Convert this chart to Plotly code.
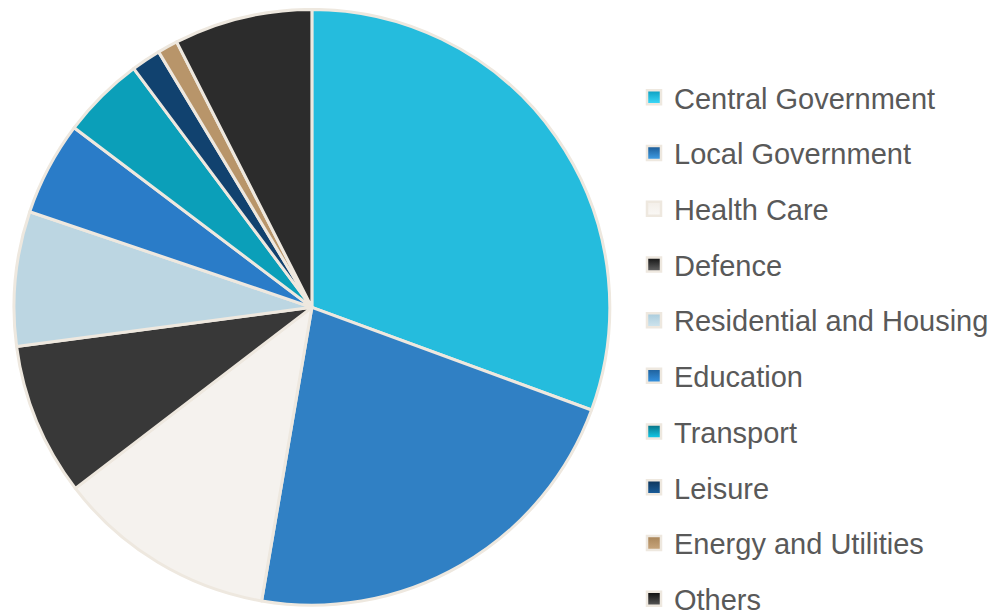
import plotly.graph_objects as go

categories = ["Central Government", "Local Government", "Health Care", "Defence",
              "Residential and Housing", "Education", "Transport", "Leisure",
              "Energy and Utilities", "Others"]
values = [30.6, 22.1, 11.9, 8.3, 7.3, 5.1, 4.5, 1.6, 1.1, 7.5]

slice_colors = ["#25bcdd", "#3080c4", "#f5f2ee", "#383838", "#bcd6e2",
                "#2a7cc8", "#0b9fb9", "#11426f", "#b8956a", "#2c2c2c"]
grad_top = ["#0c9ec0", "#1a5893", "#f3efe9", "#111111", "#a8cbdc",
            "#1f5f99", "#0a6e80", "#0d3358", "#a88458", "#0a0a0a"]
grad_bottom = ["#3fdcfc", "#42a2ea", "#faf8f5", "#666666", "#d0e5ee",
               "#3595e5", "#10d0f0", "#1a5f9e", "#c9a77e", "#5a5a5a"]

border = "#eee8df"

fig = go.Figure()
fig.add_trace(go.Pie(
    labels=categories, values=values, sort=False, direction="clockwise",
    rotation=0, textinfo="none", hoverinfo="label+value",
    marker=dict(colors=slice_colors, line=dict(color=border, width=3)),
    domain=dict(x=[0.006, 0.603], y=[0.027, 0.998]),
    showlegend=False,
))

for i, (name, top, bot) in enumerate(zip(categories, grad_top, grad_bottom)):
    fig.add_trace(go.Scatter(
        x=[None], y=[None], mode="markers", name=name, legendgroup=f"g{i}",
        marker=dict(symbol="square", size=14, color=top,
                    gradient=dict(type="vertical", color=bot),
                    line=dict(color=border, width=2.5)),
        showlegend=True, hoverinfo="skip",
    ))

fig.update_layout(
    width=998, height=614,
    margin=dict(l=0, r=0, t=0, b=0, autoexpand=False),
    paper_bgcolor="white", plot_bgcolor="white",
    xaxis=dict(visible=False), yaxis=dict(visible=False),
    legend=dict(
        x=626 / 998, xanchor="left", y=1 - 64 / 614, yanchor="top",
        font=dict(family="Liberation Sans, Arial, sans-serif", size=29, color="#595959"),
        tracegroupgap=15, bgcolor="rgba(0,0,0,0)", itemsizing="trace",
        maxheight=1000,
    ),
)

fig.write_html("out.html")
